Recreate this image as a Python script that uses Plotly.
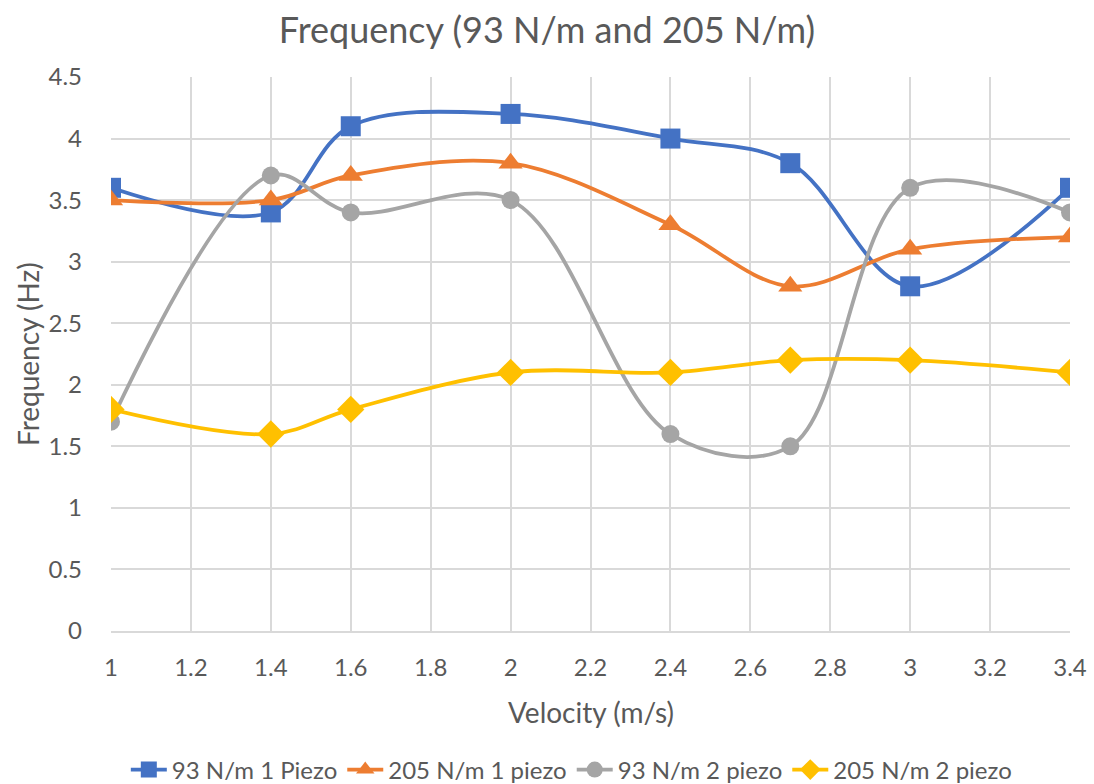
import plotly.graph_objects as go

velocity = [1, 1.4, 1.6, 2, 2.4, 2.7, 3, 3.4]
s93_1 = [3.6, 3.4, 4.1, 4.2, 4.0, 3.8, 2.8, 3.6]
s205_1 = [3.5, 3.5, 3.7, 3.8, 3.3, 2.8, 3.1, 3.2]
s93_2 = [1.7, 3.7, 3.4, 3.5, 1.6, 1.5, 3.6, 3.4]
s205_2 = [1.8, 1.6, 1.8, 2.1, 2.1, 2.2, 2.2, 2.1]
names = ["93 N/m 1 Piezo", "205 N/m 1 piezo", "93 N/m 2 piezo", "205 N/m 2 piezo"]
colors = ["#4472C4", "#ED7D31", "#A5A5A5", "#FFC000"]
symbols = ["square", "triangle-up", "circle", "diamond"]
sizes = [20, 21, 18, 21]

FONT = "Lato, Open Sans, sans-serif"
TXT = "#595959"

fig = go.Figure()
for ys, n, c, s, sz in zip([s93_1, s205_1, s93_2, s205_2], names, colors, symbols, sizes):
    fig.add_trace(go.Scatter(
        x=velocity, y=ys, name=n, mode="lines+markers",
        line=dict(color=c, width=3.8, shape="spline", smoothing=1.0),
        marker=dict(symbol=s, size=sz, color=c),
    ))

fig.update_layout(
    width=1094, height=784,
    margin=dict(l=111, r=24, t=77, b=153, autoexpand=False),
    paper_bgcolor="white", plot_bgcolor="white",
    font=dict(family=FONT, color=TXT, size=22),
    title=dict(text="Frequency (93 N/m and 205 N/m)", x=0.5, xanchor="center",
               y=1 - 30 / 784, yref="container", yanchor="middle",
               font=dict(size=36, color=TXT, family=FONT)),
    legend=dict(orientation="h", x=0.48, xanchor="center", y=-(770 - 631) / 554,
                yanchor="middle",
                font=dict(size=24, color=TXT), itemwidth=36, traceorder="normal",
                tracegroupgap=0),
    showlegend=True,
    annotations=[
        dict(text="Velocity (m/s)", xref="paper", yref="paper", x=0.5, y=-(712 - 631) / 554,
             xanchor="center", yanchor="middle", showarrow=False,
             font=dict(size=28, color=TXT, family=FONT)),
        dict(text="Frequency (Hz)", xref="paper", yref="paper", x=(28 - 111) / 959, y=0.5,
             xanchor="center", yanchor="middle", showarrow=False, textangle=-90,
             font=dict(size=28, color=TXT, family=FONT)),
    ],
)
fig.update_xaxes(
    range=[1, 3.4], dtick=0.2, tick0=1, showgrid=True, gridcolor="#D9D9D9", gridwidth=1.5,
    zeroline=False, showline=True, linecolor="#D9D9D9", linewidth=1.5,
    ticks="", tickfont=dict(size=24, color=TXT), ticklabelstandoff=14,
    tickformat="~g", automargin=False,
)
fig.update_yaxes(
    range=[0, 4.5], dtick=0.5, showgrid=True, gridcolor="#D9D9D9", gridwidth=1.5,
    zeroline=False, showline=False, ticks="", tickfont=dict(size=24, color=TXT),
    ticklabelstandoff=28, tickformat="~g", automargin=False,
)
fig.write_html("out.html")
